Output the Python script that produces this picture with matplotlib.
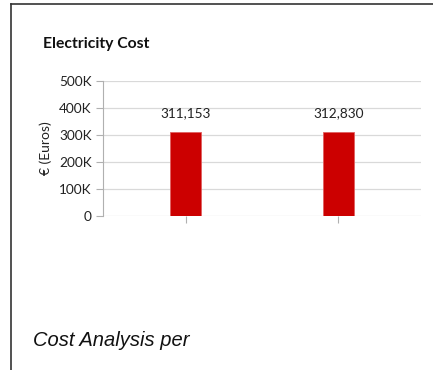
import numpy as np
import matplotlib.pyplot as plt
from matplotlib.lines import Line2D

# chart data
categories = ['A', 'B']
costs = [311153, 312830]
yticks = [0, 100000, 200000, 300000, 400000, 500000]
ytick_labels = ['0', '100K', '200K', '300K', '400K', '500K']

W, H = 433, 370
fig = plt.figure(figsize=(W / 100, H / 100), dpi=100)

# plot area in pixels: x 103..421, y 81..216
ax = fig.add_axes([103 / W, 1 - 216 / H, (421 - 103) / W, (216 - 81) / H])

x = np.arange(len(categories))
ax.bar(x, costs, width=0.2, color='#cc0000', edgecolor='#e06060', linewidth=0.6, zorder=3)

for xi, v in zip(x, costs):
    ax.annotate(f'{v:,}', (xi, v), xytext=(0, 9), textcoords='offset points',
                ha='center', va='bottom', fontsize=9.8, family='Lato', color='#222222')

ax.set_xlim(-0.54, 1.54)
ax.set_ylim(0, 500000)
ax.set_yticks(yticks)
ax.set_yticklabels(ytick_labels, fontsize=9.8, family='Lato', color='#222222')
ax.set_xticks(x)
ax.set_xticklabels([])
ax.yaxis.grid(True, color='#d9d9d9', linewidth=0.9, zorder=0)
ax.tick_params(axis='y', length=5, color='#b0b0b0', width=0.8, pad=3)
ax.tick_params(axis='x', length=5, color='#b0b0b0', width=0.8, direction='out')
for s in ['top', 'right', 'bottom']:
    ax.spines[s].set_visible(False)
ax.spines['left'].set_color('#b0b0b0')
ax.spines['left'].set_linewidth(0.8)
ax.set_ylabel('€ (Euros)', fontsize=10, family='Lato', color='#222222', labelpad=5)

fig.text(43 / W, 1 - 44 / H, 'Electricity Cost', fontsize=11.3, fontweight='bold',
         family='Lato', ha='left', va='center', color='#111111')
fig.text(33 / W, 1 - 340 / H, 'Cost Analysis per', fontsize=14.5, style='italic',
         family='Liberation Sans', ha='left', va='center', color='#111111')

# frame lines (left and top)
fig.add_artist(Line2D([10.5 / W, 10.5 / W], [0, 1 - 4 / H], transform=fig.transFigure,
                      color='#333333', linewidth=1.2))
fig.add_artist(Line2D([10.5 / W, 1], [1 - 4 / H, 1 - 4 / H], transform=fig.transFigure,
                      color='#333333', linewidth=1.2))

fig.savefig('out.png', dpi=100)
